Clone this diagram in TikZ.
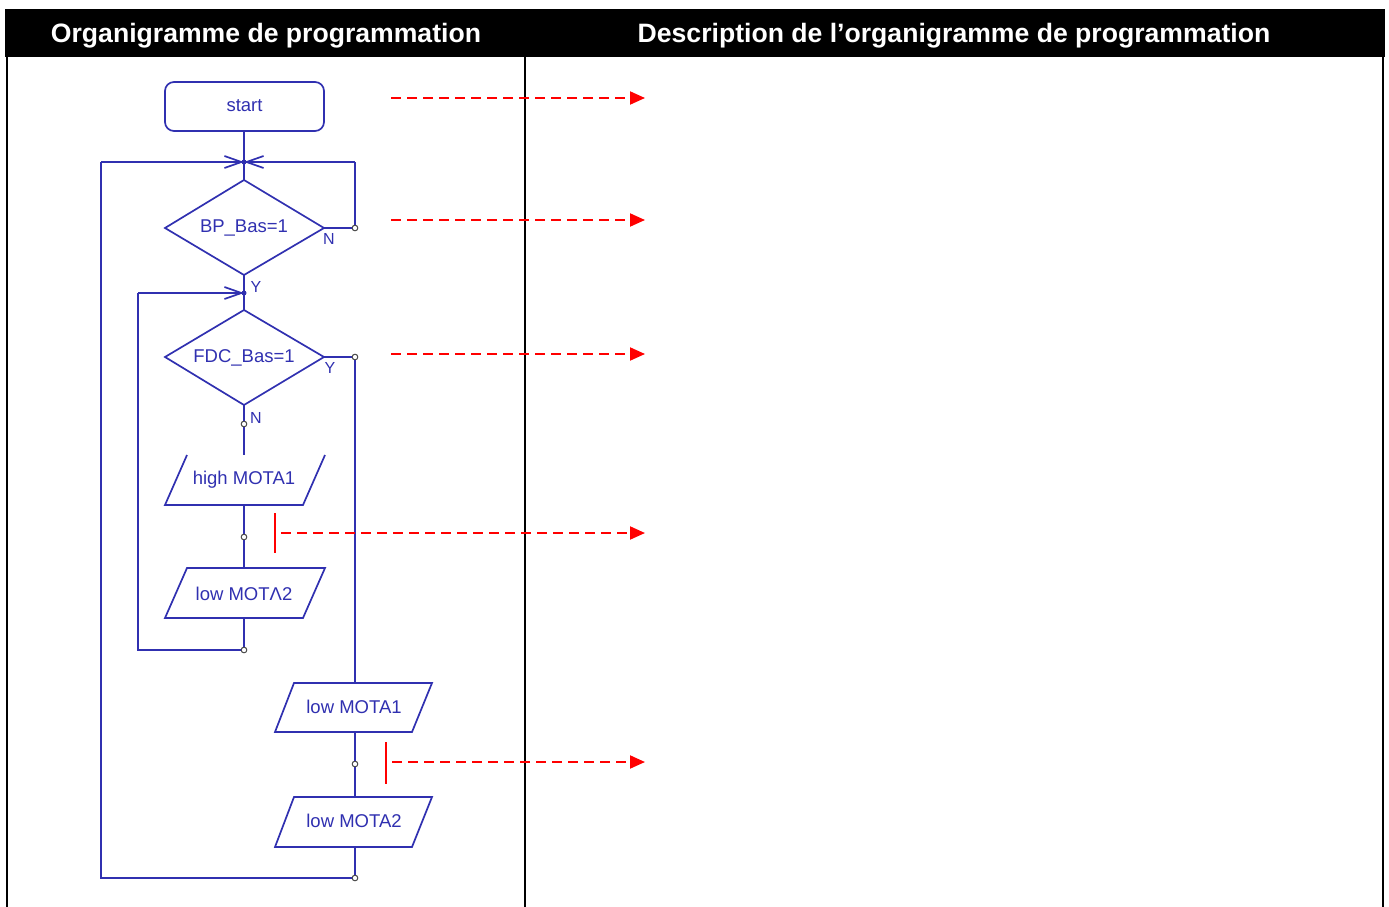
\documentclass[tikz,border=0pt]{standalone}
\usepackage{fontspec}
\setmainfont{Liberation Sans}
\usetikzlibrary{arrows.meta}
\definecolor{fc}{RGB}{48,48,176}
\definecolor{rd}{RGB}{255,0,0}
\begin{document}
\begin{tikzpicture}[x=1pt,y=-1pt,
 flow/.style={draw=fc, line width=1.7pt},
 lbl/.style={text=fc, font=\fontsize{18.5}{20}\selectfont, inner sep=0},
 yn/.style={text=fc, font=\fontsize{16}{18}\selectfont, inner sep=0},
 pin/.style={circle, draw=black!70, fill=white, line width=0.9pt, minimum size=5.5pt, inner sep=0},
 jdot/.style={circle, fill=fc, minimum size=5pt, inner sep=0},
 hdr/.style={text=white, font=\bfseries\fontsize{26.6}{28}\selectfont, inner sep=0},
 ann/.style={draw=rd, line width=2pt, dash pattern=on 10pt off 6pt, -{Triangle[length=15pt,width=13pt]}},
 rbar/.style={draw=rd, line width=2pt},
 merge/.style={-{Straight Barb[length=17pt,width=12pt]}}]
\useasboundingbox (0,0) rectangle (1389,907);
% table
\fill[black] (5,9) rectangle (1385,57);
\node[hdr] (h1) at (266,36) {Organigramme de programmation};
\node[hdr] (h2) at (954,36) {Description de l’organigramme de programmation};
\draw[line width=2pt] (7,57) -- (7,907);
\draw[line width=2pt] (525,57) -- (525,907);
\draw[line width=2pt] (1383,57) -- (1383,907);

% start
\draw[flow, rounded corners=9pt] (165,82) rectangle (324,131);
\node[lbl] (start) at (244.5,106) {start};
\coordinate (startb) at (244,131);

% junction 1
\coordinate (j1) at (244,162);
\coordinate (l1) at (101,162);
\coordinate (r1) at (355,162);

% diamond 1
\coordinate (d1t) at (244,180);
\coordinate (d1l) at (165,228);
\coordinate (d1r) at (324,228);
\coordinate (d1b) at (244,275);
\draw[flow] (d1t) -- (d1r) -- (d1b) -- (d1l) -- cycle;
\node[lbl] (bp) at (244,227.5) {BP\_Bas=1};
\node[yn] (n1) at (329,239) {N};
\node[pin] (p1) at (355,228) {};

% junction 2
\coordinate (j2) at (244,293);
\coordinate (l2) at (138,293);
\node[yn] (y1) at (256,287) {Y};

% diamond 2
\coordinate (d2t) at (244,310);
\coordinate (d2l) at (165,357);
\coordinate (d2r) at (324,357);
\coordinate (d2b) at (244,405);
\draw[flow] (d2t) -- (d2r) -- (d2b) -- (d2l) -- cycle;
\node[lbl] (fdc) at (244,357.5) {FDC\_Bas=1};
\node[yn] (y2) at (330,368) {Y};
\node[yn] (n2) at (256,418) {N};
\node[pin] (p2) at (355,357) {};
\node[pin] (p3) at (244,424) {};

% high MOTA1 (no top edge)
\draw[flow] (187,455) -- (165,505) -- (303,505) -- (325,455);
\node[lbl] (hm1) at (244,479.5) {high MOTA1};
\coordinate (hm1t) at (244,455);
\coordinate (hm1b) at (244,505);
\node[pin] (p4) at (244,537) {};

% low MOTA2 (left)
\draw[flow] (187,568) -- (325,568) -- (303,618) -- (165,618) -- cycle;
\node[lbl] (lm2a) at (244,594) {low MOTΛ2};
\coordinate (lm2at) at (244,568);
\coordinate (lm2ab) at (244,618);
\node[pin] (p5) at (244,650) {};

% low MOTA1 (right)
\draw[flow] (294,683) -- (432,683) -- (412,732) -- (275,732) -- cycle;
\node[lbl] (lm1) at (354,707) {low MOTA1};
\coordinate (lm1t) at (355,683);
\coordinate (lm1b) at (355,732);
\node[pin] (p6) at (355,764) {};

% low MOTA2 (right)
\draw[flow] (294,797) -- (432,797) -- (412,847) -- (275,847) -- cycle;
\node[lbl] (lm2b) at (354,820.5) {low MOTA2};
\coordinate (lm2bt) at (355,797);
\coordinate (lm2bb) at (355,847);
\node[pin] (p7) at (355,878) {};
\coordinate (bl) at (101,878);
\coordinate (bl2) at (138,650);

% connectors
\draw[flow] (startb) -- (d1t);
\draw[flow] (d1r) -- (p1.west);
\draw[flow] (p1.north) -- (r1);
\draw[flow, merge] (r1) -- (j1);
\draw[flow] (p7.west) -- (bl) -- (l1);
\draw[flow, merge] (l1) -- (j1);
\draw[flow] (d1b) -- (d2t);
\draw[flow] (p5.west) -- (bl2) -- (l2);
\draw[flow, merge] (l2) -- (j2);
\draw[flow] (d2r) -- (p2.west);
\draw[flow] (p2.south) -- (lm1t);
\draw[flow] (d2b) -- (p3.north);
\draw[flow] (p3.south) -- (hm1t);
\draw[flow] (hm1b) -- (p4.north);
\draw[flow] (p4.south) -- (lm2at);
\draw[flow] (lm2ab) -- (p5.north);
\draw[flow] (lm1b) -- (p6.north);
\draw[flow] (p6.south) -- (lm2bt);
\draw[flow] (lm2bb) -- (p7.north);
\node[jdot] (jd1) at (j1) {};
\node[jdot] (jd2) at (j2) {};
\node[pin] at (355,228) {};
\node[pin] at (355,357) {};
\node[pin] at (244,424) {};
\node[pin] at (244,537) {};
\node[pin] at (244,650) {};
\node[pin] at (355,764) {};
\node[pin] at (355,878) {};

% annotations
\coordinate (a1s) at (391,98);  \coordinate (a1e) at (645,98);
\coordinate (a2s) at (391,220); \coordinate (a2e) at (645,220);
\coordinate (a3s) at (391,354); \coordinate (a3e) at (645,354);
\coordinate (a4s) at (281,533); \coordinate (a4e) at (645,533);
\coordinate (a5s) at (392,762); \coordinate (a5e) at (645,762);
\draw[ann] (a1s) -- (a1e);
\draw[ann] (a2s) -- (a2e);
\draw[ann] (a3s) -- (a3e);
\draw[ann] (a4s) -- (a4e);
\draw[ann] (a5s) -- (a5e);
\coordinate (b1t) at (275,513); \coordinate (b1b) at (275,553);
\coordinate (b2t) at (386,742); \coordinate (b2b) at (386,784);
\draw[rbar] (b1t) -- (b1b);
\draw[rbar] (b2t) -- (b2b);
\end{tikzpicture}
\end{document}
